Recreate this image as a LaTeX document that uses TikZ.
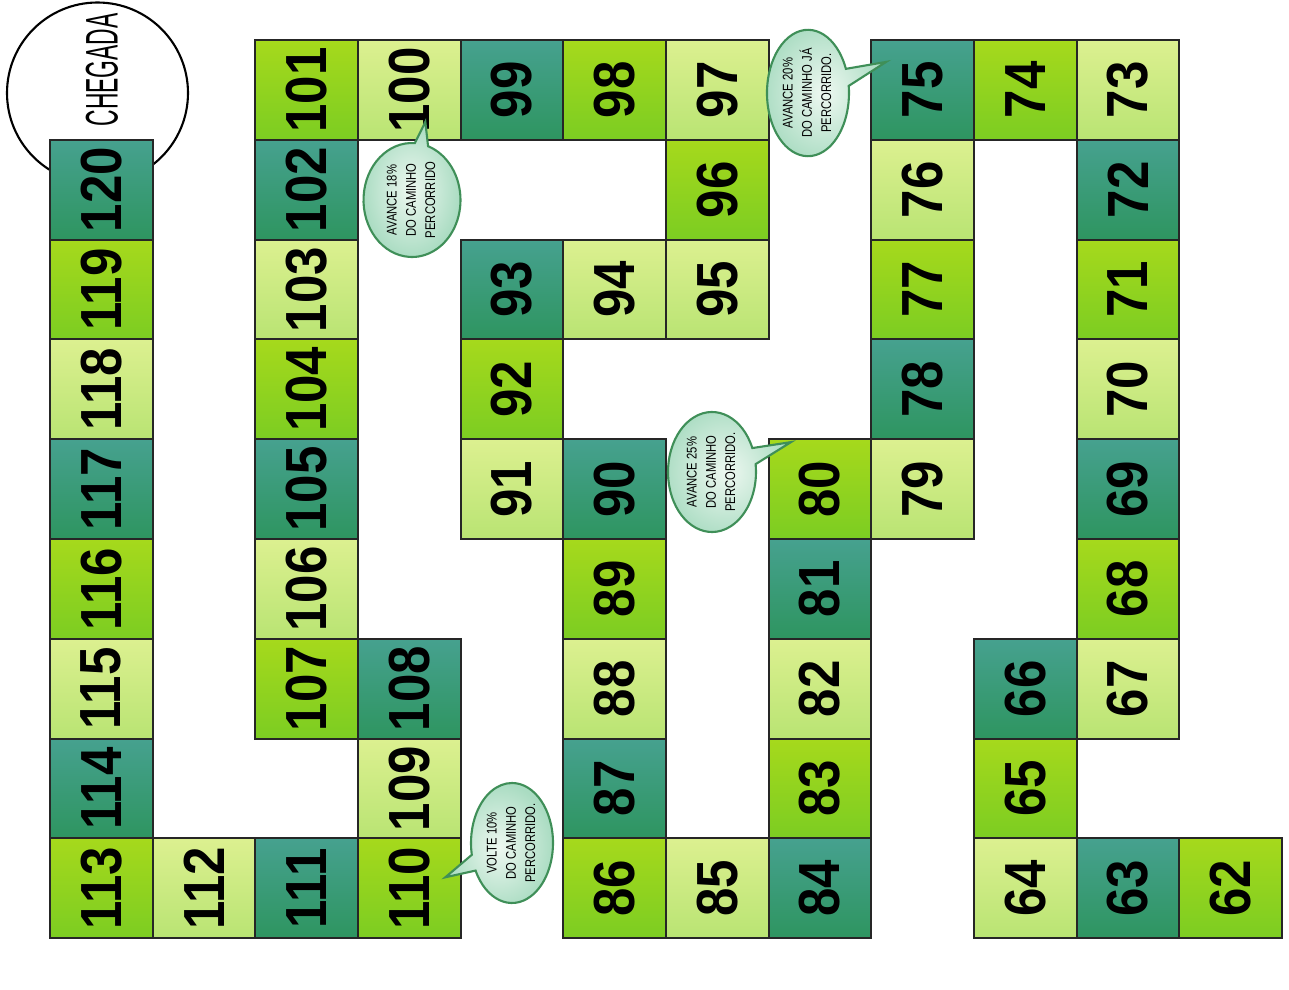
\documentclass[tikz,border=0pt]{standalone}
\usepackage{fontspec}
\usepackage{graphicx}
\setmainfont{Liberation Sans}
\newfontfamily\numfont[FakeStretch=0.88]{Liberation Sans}
\newfontfamily\narrowfont[FakeStretch=0.5]{Liberation Sans}
\newfontfamily\notefont[FakeStretch=0.8]{Liberation Sans}
\usetikzlibrary{shapes.callouts,calc}

\definecolor{tealA}{HTML}{46A18F}
\definecolor{tealB}{HTML}{2E9560}
\definecolor{limeA}{HTML}{A6D91C}
\definecolor{limeB}{HTML}{7CCD22}
\definecolor{paleA}{HTML}{DCF090}
\definecolor{paleB}{HTML}{B9E473}
\definecolor{noteA}{HTML}{EEF8F1}
\definecolor{noteB}{HTML}{AADCC2}
\definecolor{noteline}{HTML}{3F8F58}

\tikzset{
  casa/.style={rectangle, rotate=90, draw=black!85, line width=0.6pt, inner sep=0pt,
    minimum width=0.998cm, minimum height=1.0267cm,
    font=\numfont\bfseries\fontsize{16.5}{18}\selectfont},
  balao/.style={ellipse callout, draw=noteline, line width=0.6pt, inner sep=0pt,
    inner color=noteA, outer color=noteB, callout pointer arc=16,
    font=\notefont\fontsize{4}{5.5}\selectfont},
}

\begin{document}
\begin{tikzpicture}
  \useasboundingbox (0,0) rectangle (12.89,9.89);

  \node (meta) [circle, draw, line width=0.6pt, minimum size=1.81cm] at (0.975,8.96) {};
  \node (metatxt) [rotate=90, font=\narrowfont\fontsize{13}{13}\selectfont] at (1.02,9.19) {CHEGADA};

  \foreach \c/\r/\n/\tom in {0/1/120/teal, 0/2/119/lime, 0/3/118/pale, 0/4/117/teal,
      0/5/116/lime, 0/6/115/pale, 0/7/114/teal, 0/8/113/lime, 1/8/112/pale, 2/8/111/teal,
      3/8/110/lime, 3/7/109/pale, 3/6/108/teal, 2/6/107/lime, 2/5/106/pale, 2/4/105/teal,
      2/3/104/lime, 2/2/103/pale, 2/1/102/teal, 2/0/101/lime, 3/0/100/pale, 4/0/99/teal,
      5/0/98/lime, 6/0/97/pale, 6/1/96/lime, 6/2/95/pale, 5/2/94/pale, 4/2/93/teal,
      4/3/92/lime, 4/4/91/pale, 5/4/90/teal, 5/5/89/lime, 5/6/88/pale, 5/7/87/teal,
      5/8/86/lime, 6/8/85/pale, 7/8/84/teal, 7/7/83/lime, 7/6/82/pale, 7/5/81/teal,
      7/4/80/lime, 8/4/79/pale, 8/3/78/teal, 8/2/77/lime, 8/1/76/pale, 8/0/75/teal,
      9/0/74/lime, 10/0/73/pale, 10/1/72/teal, 10/2/71/lime, 10/3/70/pale, 10/4/69/teal,
      10/5/68/lime, 10/6/67/pale, 9/6/66/teal, 9/7/65/lime, 9/8/64/pale, 10/8/63/teal,
      11/8/62/lime}
    \node (c\n) [casa, top color=\tom A, bottom color=\tom B]
      at ({0.5+(\c+0.5)*1.0267},{9.49-(\r+0.5)*0.998}) {\n};

  \node (b18) [balao, minimum width=0.97cm, minimum height=1.14cm,
    callout absolute pointer={($(c100)+(0.16,-0.32)$)}] at (4.12,7.89)
    {\rotatebox{90}{\begin{tabular}{@{}c@{}}AVANCE 18\%\\DO CAMINHO\\PERCORRIDO\end{tabular}}};
  \node (b20) [balao, minimum width=0.80cm, minimum height=1.00cm,
    callout absolute pointer={($(c75)+(-0.365,0.28)$)}] at (8.08,8.96)
    {\rotatebox{90}{\begin{tabular}{@{}c@{}}AVANCE 20\%\\DO CAMINHO JÁ\\PERCORRIDO.\end{tabular}}};
  \node (b25) [balao, minimum width=0.88cm, minimum height=1.20cm,
    callout absolute pointer={($(c80)+(-0.29,0.47)$)}] at (7.12,5.17)
    {\rotatebox{90}{\begin{tabular}{@{}c@{}}AVANCE 25\%\\DO CAMINHO\\PERCORRIDO.\end{tabular}}};
  \node (b10) [balao, minimum width=0.76cm, minimum height=1.20cm,
    callout absolute pointer={($(c110)+(0.36,0.11)$)}] at (5.12,1.46)
    {\rotatebox{90}{\begin{tabular}{@{}c@{}}VOLTE 10\%\\DO CAMINHO\\PERCORRIDO.\end{tabular}}};
\end{tikzpicture}
\end{document}
